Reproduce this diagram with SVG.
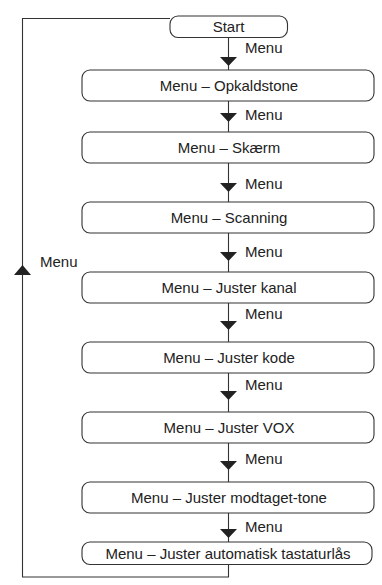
<svg xmlns="http://www.w3.org/2000/svg" width="382" height="585" viewBox="0 0 382 585">
<style>
.box{fill:#fff;stroke:#333;stroke-width:1.1}
.t{font-family:"Liberation Sans",Arial,sans-serif;font-size:15px;fill:#222;text-anchor:middle}
.l{font-family:"Liberation Sans",Arial,sans-serif;font-size:15px;fill:#222}
.ln{fill:none;stroke:#333;stroke-width:1.1}
.ah{fill:#222}
</style>
<rect width="382" height="585" fill="#fff"/>
<g id="connectors">
<path class="ln" d="M228.5 37.5V70M228.5 101V132M228.5 163V202M228.5 233V272M228.5 303V342M228.5 373V412M228.5 443V482M228.5 513V542"/>
<path class="ln" d="M228.5 564.5V577H22.5V18.5H170"/>
<path class="ah" d="M220 57h17l-8.5 9z M220 113h17l-8.5 9z M220 183h17l-8.5 9z M220 252h17l-8.5 9z M220 321h17l-8.5 9z M220 391h17l-8.5 9z M220 461h17l-8.5 9z M220 529h17l-8.5 9z"/>
<path class="ah" d="M14 275h17l-8.5 -10z"/>
<text class="l" x="245" y="53">Menu</text>
<text class="l" x="245" y="120">Menu</text>
<text class="l" x="245" y="189">Menu</text>
<text class="l" x="245" y="257">Menu</text>
<text class="l" x="245" y="319">Menu</text>
<text class="l" x="245" y="390">Menu</text>
<text class="l" x="245" y="464">Menu</text>
<text class="l" x="245" y="532">Menu</text>
<text class="l" x="40" y="267">Menu</text>
</g>
<g id="start"><rect class="box" x="170" y="16" width="117.5" height="21.5" rx="8"/><text class="t" x="228.5" y="32">Start</text></g>
<g id="n1"><rect class="box" x="82" y="70" width="292" height="31" rx="8"/><text class="t" x="229" y="90.5">Menu – Opkaldstone</text></g>
<g id="n2"><rect class="box" x="82" y="132" width="292" height="31" rx="8"/><text class="t" x="229" y="152.5">Menu – Skærm</text></g>
<g id="n3"><rect class="box" x="82" y="202" width="292" height="31" rx="8"/><text class="t" x="229" y="222.5">Menu – Scanning</text></g>
<g id="n4"><rect class="box" x="82" y="272" width="292" height="31" rx="8"/><text class="t" x="229" y="292.5">Menu – Juster kanal</text></g>
<g id="n5"><rect class="box" x="82" y="342" width="292" height="31" rx="8"/><text class="t" x="229" y="362.5">Menu – Juster kode</text></g>
<g id="n6"><rect class="box" x="82" y="412" width="292" height="31" rx="8"/><text class="t" x="229" y="432.5">Menu – Juster VOX</text></g>
<g id="n7"><rect class="box" x="82" y="482" width="292" height="31" rx="8"/><text class="t" x="229" y="502.5">Menu – Juster modtaget-tone</text></g>
<g id="n8"><rect class="box" x="82" y="542" width="290" height="22.5" rx="8"/><text class="t" x="228" y="558.5">Menu – Juster automatisk tastaturlås</text></g>
</svg>
